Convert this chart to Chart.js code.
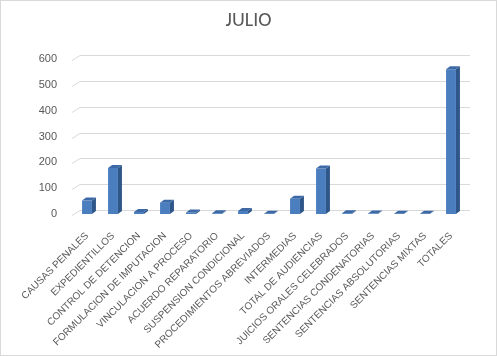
<!DOCTYPE html>
<html><head><meta charset="utf-8">
<script src="https://cdn.jsdelivr.net/npm/chart.js@4/dist/chart.umd.min.js"></script>
<style>
html,body{margin:0;padding:0;background:#fff;}
#wrap{width:497px;height:356px;box-sizing:border-box;border:1px solid #d9d9d9;position:relative;}
canvas{display:block;}
</style></head>
<body><div id="wrap"><canvas id="c" width="495" height="354"></canvas></div>
<script>
const categories = ["CAUSAS PENALES","EXPEDIENTILLOS","CONTROL DE DETENCION","FORMULACION DE IMPUTACION","VINCULACION A PROCESO","ACUERDO REPARATORIO","SUSPENSION CONDICIONAL","PROCEDIMIENTOS ABREVIADOS","INTERMEDIAS","TOTAL DE AUDIENCIAS","JUICIOS ORALES CELEBRADOS","SENTENCIAS CONDENATORIAS","SENTENCIAS ABSOLUTORIAS","SENTENCIAS MIXTAS","TOTALES"];
const julio = [52,178,8,44,6,3,12,1,59,176,3,2,1,1,560];
const yTicks = [0,100,200,300,400,500,600];
const titleText = "JULIO";

const DX = 4, DY = -3;
const GDX = 8, GDY = -5;

const threeD = {
  id:'threeD',
  beforeDatasetsDraw(chart){
    const ctx = chart.ctx, y = chart.scales.y, a = chart.chartArea;
    ctx.save();
    ctx.strokeStyle = '#d9d9d9'; ctx.lineWidth = 1;
    yTicks.forEach(v=>{
      const py = Math.round(y.getPixelForValue(v)) + 0.5;
      ctx.beginPath();
      ctx.moveTo(a.left - 2, py + 1);
      ctx.lineTo(a.left - 2 + GDX, py + 1 + GDY);
      ctx.lineTo(a.right + 6, py + 1 + GDY);
      ctx.stroke();
    });
    ctx.restore();
  },
  afterDatasetsDraw(chart){
    const ctx = chart.ctx;
    const meta = chart.getDatasetMeta(0);
    ctx.save();
    meta.data.forEach(bar=>{
      const p = bar.getProps(['x','y','base','width'], true);
      const l = p.x - p.width/2, r = p.x + p.width/2, t = p.y, b = p.base;
      ctx.fillStyle = '#2f5689';
      ctx.beginPath();
      ctx.moveTo(r, b); ctx.lineTo(r + DX, b + DY); ctx.lineTo(r + DX, t + DY); ctx.lineTo(r, t); ctx.closePath(); ctx.fill();
      ctx.fillStyle = '#3d6aa6';
      ctx.beginPath();
      ctx.moveTo(l, t); ctx.lineTo(l + DX, t + DY); ctx.lineTo(r + DX, t + DY); ctx.lineTo(r, t); ctx.closePath(); ctx.fill();
    });
    ctx.restore();
  }
};

new Chart(document.getElementById('c'), {
  type:'bar',
  data:{labels:categories, datasets:[{data:julio, backgroundColor:'#4a7ebf', borderWidth:0, barPercentage:0.38, categoryPercentage:1}]},
  options:{
    responsive:false, animation:false,
    layout:{padding:0},
    plugins:{
      legend:{display:false}, tooltip:{enabled:false},
      title:{display:true, text:titleText, color:'#595959', font:{family:'Carlito, "Liberation Sans", sans-serif', size:20, weight:'normal'}, padding:{top:8,bottom:26}}
    },
    scales:{
      x:{
        grid:{display:false}, border:{display:false},
        ticks:{color:'#595959', font:{family:'"Liberation Sans", sans-serif', size:10}, maxRotation:45, minRotation:45, autoSkip:false, padding:8},
        afterFit(s){ s.height = 141; }
      },
      y:{
        min:0, max:600,
        afterBuildTicks(s){ s.ticks = yTicks.map(v=>({value:v})); },
        grid:{display:false}, border:{display:false},
        ticks:{color:'#595959', font:{family:'"Liberation Sans", sans-serif', size:11}, padding:9},
        afterFit(s){ s.width = 73; }
      },
      yr:{
        position:'right', min:0, max:600,
        grid:{display:false}, border:{display:false},
        ticks:{display:false},
        afterFit(s){ s.width = 32; }
      }
    }
  },
  plugins:[threeD]
});
</script></body></html>
